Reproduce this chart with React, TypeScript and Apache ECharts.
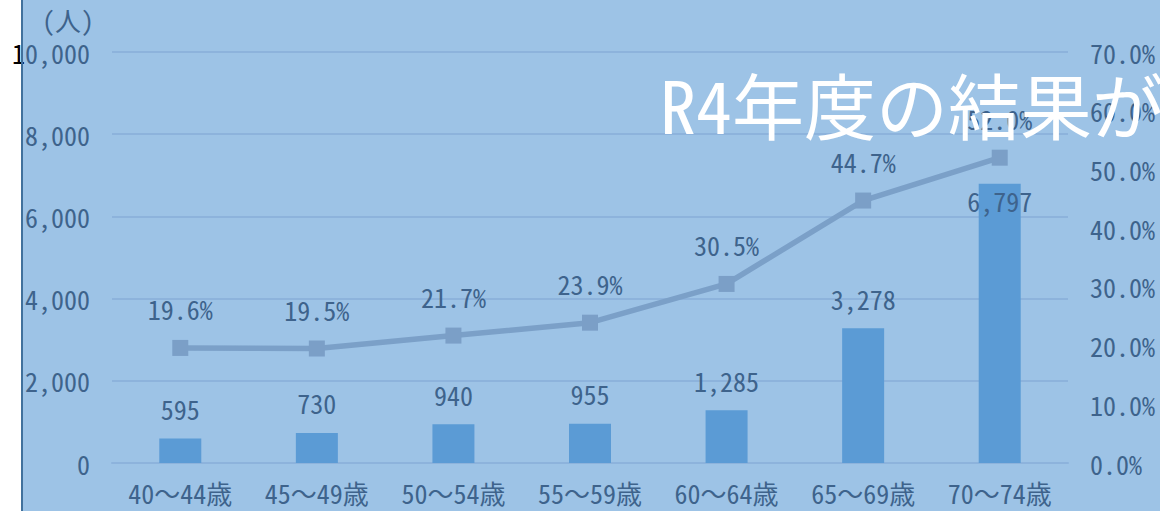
import React, { useEffect, useRef } from "react";
import * as echarts from "echarts";

const categories = ["40～44歳", "45～49歳", "50～54歳", "55～59歳", "60～64歳", "65～69歳", "70～74歳"];
const counts = [595, 730, 940, 955, 1285, 3278, 6797];
const rates = [19.6, 19.5, 21.7, 23.9, 30.5, 44.7, 52.0];
const leftTicks = { min: 0, max: 10000, interval: 2000 };
const rightTicks = { min: 0, max: 70, interval: 10 };
const unitLabel = "(人)";
const title = "R4年度の結果が";

const FONT = "'Noto Sans Mono CJK JP', 'Noto Sans CJK JP', monospace";
const TXT = "#3E638C";
const FS = 26;

export default function App() {
  const ref = useRef<HTMLDivElement>(null);
  useEffect(() => {
    document.body.style.margin = "0";
    const chart = echarts.init(ref.current!, null, { renderer: "svg" });
    const fmtNum = (v: number) => v.toLocaleString("en-US");
    chart.setOption({
      animation: false,
      backgroundColor: "#ffffff",
      textStyle: { fontFamily: FONT },
      graphic: [
        { type: "rect", z: -1, shape: { x: 21, y: 0, width: 1160, height: 511 }, style: { fill: "#9DC3E6" } },
        { type: "rect", z: 5, shape: { x: 21, y: 0, width: 2, height: 511 }, style: { fill: "#41719C" } },
        {
          type: "text", z: 5, left: 42, top: 6,
          style: { text: unitLabel, fill: TXT, font: `${FS}px ${FONT}` },
        },
        {
          type: "text", z: 20, left: 660, top: 66,
          style: { text: title, fill: "#ffffff", font: `72px ${FONT}` },
        },
      ],
      grid: { left: 112, right: 92, top: 52, bottom: 48 },
      xAxis: {
        type: "category",
        data: categories,
        axisTick: { show: false },
        axisLine: { lineStyle: { color: "#8DB3DC", width: 2 } },
        axisLabel: { color: TXT, fontSize: FS, margin: 16, fontFamily: FONT },
      },
      yAxis: [
        {
          type: "value",
          ...leftTicks,
          splitLine: { lineStyle: { color: "#8DB3DC", width: 2 } },
          axisLabel: {
            margin: 22,
            fontFamily: FONT,
            formatter: (v: number) => {
              const s = fmtNum(v);
              if (v === 10000) return "{k|1}{v|" + s.slice(1) + "}";
              return "{v|" + s + "}";
            },
            rich: {
              k: { color: "#000000", fontSize: FS, fontFamily: FONT },
              v: { color: TXT, fontSize: FS, fontFamily: FONT },
            },
          },
        },
        {
          type: "value",
          ...rightTicks,
          splitLine: { show: false },
          axisLabel: {
            margin: 22,
            color: TXT,
            fontSize: FS,
            fontFamily: FONT,
            formatter: (v: number) => v.toFixed(1) + "%",
          },
        },
      ],
      series: [
        {
          type: "bar",
          data: counts.map((v, i) =>
            i === counts.length - 1
              ? { value: v, label: { position: "insideTop", distance: 4 } }
              : v
          ),
          barWidth: 42,
          itemStyle: { color: "#5B9BD5" },
          label: {
            show: true,
            position: "top",
            distance: 17,
            color: TXT,
            fontSize: FS,
            fontFamily: FONT,
            formatter: (p: any) => fmtNum(p.value),
          },
          z: 2,
        },
        {
          type: "line",
          yAxisIndex: 1,
          data: rates,
          symbol: "rect",
          symbolSize: 16,
          lineStyle: { color: "#7BA0C8", width: 5.5 },
          itemStyle: { color: "#7B9FC7" },
          label: {
            show: true,
            position: "top",
            distance: 18,
            color: TXT,
            fontSize: FS,
            fontFamily: FONT,
            formatter: (p: any) => p.value.toFixed(1) + "%",
          },
          z: 3,
        },
      ],
    });
    return () => chart.dispose();
  }, []);
  return <div ref={ref} style={{ position: "absolute", left: 0, top: 0, width: 1160, height: 511 }} />;
}
